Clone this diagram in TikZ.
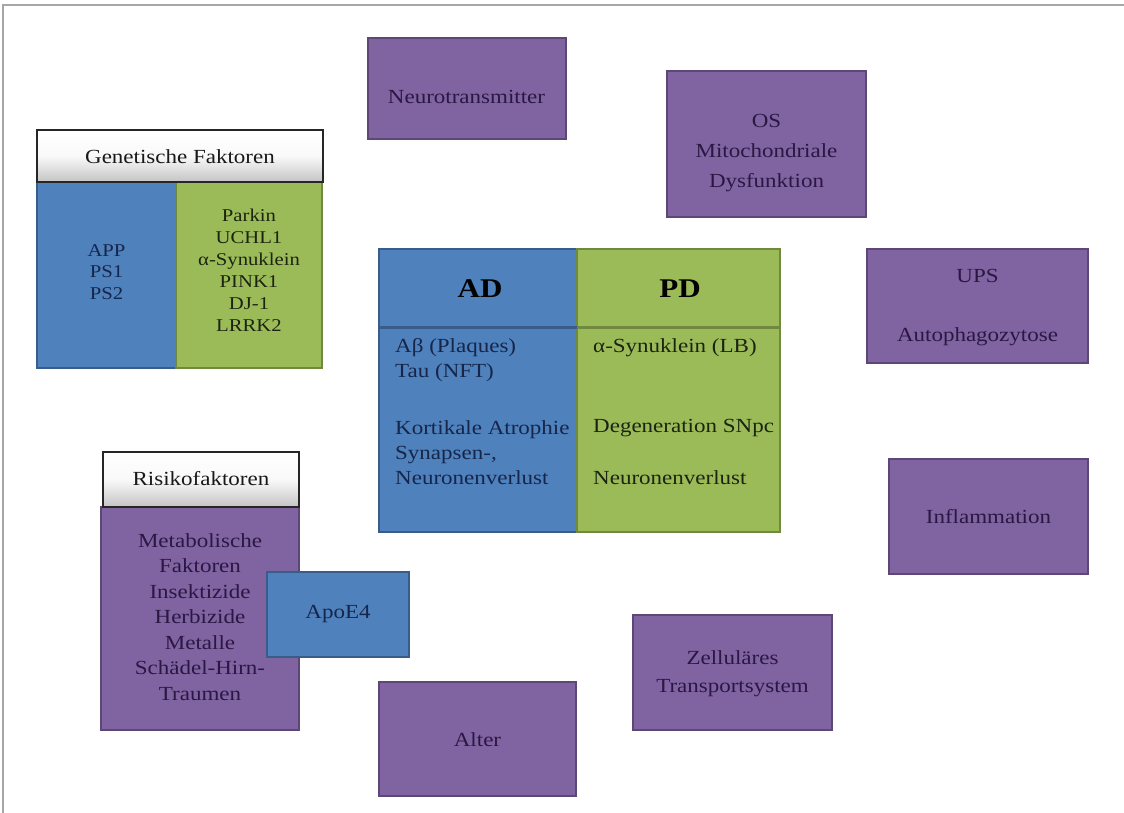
\documentclass[tikz,border=0pt]{standalone}
\usepackage{fontspec}
\setmainfont{Liberation Serif}[FakeStretch=1.15]
\definecolor{bfill}{HTML}{4F81BD}
\definecolor{bdraw}{HTML}{385D8A}
\definecolor{gfill}{HTML}{9BBB59}
\definecolor{gdraw}{HTML}{71893F}
\definecolor{pfill}{HTML}{8064A2}
\definecolor{pdraw}{HTML}{5C4776}
\definecolor{btext}{HTML}{16264A}
\definecolor{gtext}{HTML}{1C2410}
\definecolor{ptext}{HTML}{2A1843}
\definecolor{hgray}{HTML}{C4C4C4}
\definecolor{framegray}{HTML}{A6A6A6}
\tikzset{
  box/.style={rectangle, inner sep=0pt, outer sep=0pt, line width=2pt},
  pbox/.style={box, fill=pfill, draw=pdraw},
  bbox/.style={box, fill=bfill, draw=bdraw},
  gbox/.style={box, fill=gfill, draw=gdraw},
  hbox/.style={box, line width=1.3pt, draw=black!85, top color=white, bottom color=hgray, middle color=white!90!hgray},
  ptxt/.style={inner sep=0pt, align=center, text=ptext, font=\fontsize{20}{30}\selectfont},
  btxt/.style={inner sep=0pt, align=center, text=btext, font=\fontsize{20}{25}\selectfont},
  gtxt/.style={inner sep=0pt, align=center, text=gtext, font=\fontsize{20}{25}\selectfont},
  htxt/.style={inner sep=0pt, text=black!90, font=\fontsize{20}{24}\selectfont},
  big/.style={inner sep=0pt, text=black, font=\fontsize{27}{30}\selectfont\bfseries},
}
\begin{document}
\begin{tikzpicture}[x=1pt,y=-1pt]
\useasboundingbox (0,0) rectangle (1124,813);
\fill[white] (0,0) rectangle (1124,813);
% frame
\coordinate (fTR) at (1124,5);
\coordinate (fTL) at (3,5);
\coordinate (fBL) at (3,813);
\draw[framegray, line width=2pt] (fTR) -- (fTL) -- (fBL);

% Neurotransmitter
\node[pbox, minimum width=198pt, minimum height=101pt] (nt) at (466.5,88.5) {};
\node[ptxt] (ntT) at (466.5,97) {Neurotransmitter};

% OS
\node[pbox, minimum width=199pt, minimum height=146pt] (os) at (766.5,144) {};
\node[ptxt, font=\fontsize{20}{30}\selectfont] (osT) at (766.5,153) {OS\\Mitochondriale\\Dysfunktion};

% UPS
\node[pbox, minimum width=221pt, minimum height=114pt] (ups) at (977.5,306) {};
\node[ptxt] (upsT) at (977.5,308) {UPS\\[29pt]Autophagozytose};

% Inflammation
\node[pbox, minimum width=199pt, minimum height=115pt] (infl) at (988.5,516.5) {};
\node[ptxt] (inflT) at (988.5,517) {Inflammation};

% Zellulaeres Transportsystem
\node[pbox, minimum width=199pt, minimum height=115pt] (zts) at (732.5,672.5) {};
\node[ptxt, font=\fontsize{20}{28}\selectfont] (ztsT) at (732.5,674) {Zelluläres\\Transportsystem};

% Alter
\node[pbox, minimum width=197pt, minimum height=114pt] (alter) at (477.5,739) {};
\node[ptxt] (alterT) at (477.5,740) {Alter};

% AD / PD central table
\node[bbox, minimum width=198pt, minimum height=283pt] (ad) at (478,390.5) {};
\node[gbox, minimum width=203pt, minimum height=283pt] (pd) at (678.5,390.5) {};
\coordinate (adL) at (380,327);
\coordinate (adR) at (577,327);
\coordinate (pdL) at (578,327);
\coordinate (pdR) at (779,327);
\draw[bdraw, line width=3pt] (adL) -- (adR);
\draw[gdraw, line width=3pt] (pdL) -- (pdR);
\node[big] (adT) at (480,289) {AD};
\node[big] (pdT) at (680,289) {PD};
\node[btxt, align=left, anchor=west] (ad1) at (395,360.5) {Aβ (Plaques)\\Tau (NFT)};
\node[btxt, align=left, anchor=west] (ad2) at (395,453) {Kortikale Atrophie\\Synapsen-,\\Neuronenverlust};
\node[gtxt, anchor=west] (pd1) at (593,348) {α-Synuklein (LB)};
\node[gtxt, anchor=west] (pd2) at (593,428) {Degeneration SNpc};
\node[gtxt, anchor=west] (pd3) at (593,478) {Neuronenverlust};

% Genetische Faktoren
\node[bbox, minimum width=139pt, minimum height=186pt] (genA) at (106.5,275) {};
\node[gbox, minimum width=146pt, minimum height=186pt] (genB) at (249,275) {};
\node[hbox, minimum width=286pt, minimum height=52pt] (genH) at (180,156) {};
\node[htxt] (genHT) at (180,157) {Genetische Faktoren};
\node[btxt, font=\fontsize{18}{21.5}\selectfont] (genAT) at (106.5,272) {APP\\PS1\\PS2};
\node[gtxt, font=\fontsize{18}{22}\selectfont] (genBT) at (249,270) {Parkin\\UCHL1\\α-Synuklein\\PINK1\\DJ-1\\LRRK2};

% Risikofaktoren
\node[pbox, minimum width=198pt, minimum height=223pt] (risk) at (200,618.5) {};
\node[hbox, minimum width=196pt, minimum height=55pt] (riskH) at (201,479.5) {};
\node[htxt] (riskHT) at (201,479) {Risikofaktoren};
\node[ptxt, font=\fontsize{20}{25.5}\selectfont] (riskT) at (200,617) {Metabolische\\Faktoren\\Insektizide\\Herbizide\\Metalle\\Schädel-Hirn-\\Traumen};

% ApoE4
\node[bbox, minimum width=142pt, minimum height=85pt] (apoe) at (338,614.5) {};
\node[btxt] (apoeT) at (338,614) {ApoE4};
\end{tikzpicture}
\end{document}
